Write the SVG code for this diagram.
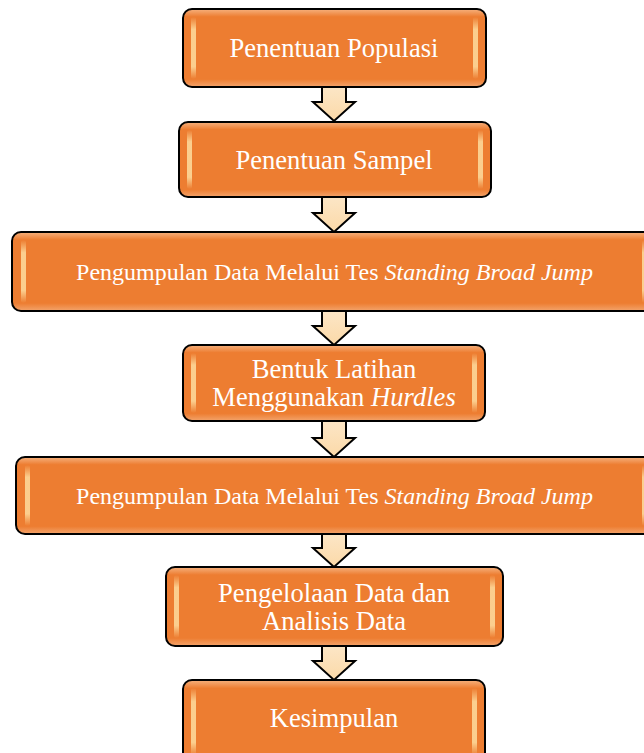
<svg xmlns="http://www.w3.org/2000/svg" width="644" height="753" viewBox="0 0 644 753">
<defs>
<linearGradient id="gv" x1="0" y1="0" x2="0" y2="1">
<stop offset="0" stop-color="#F6B27F"/>
<stop offset="0.1" stop-color="#ED7D31"/>
<stop offset="0.9" stop-color="#ED7D31"/>
<stop offset="1" stop-color="#F3A46C"/>
</linearGradient>
<linearGradient id="bar" x1="0" y1="0" x2="0" y2="1">
<stop offset="0" stop-color="#ED7D31"/>
<stop offset="0.2" stop-color="#FFE3A6"/>
<stop offset="0.8" stop-color="#FFE3A6"/>
<stop offset="1" stop-color="#ED7D31"/>
</linearGradient>
<linearGradient id="arr" x1="0" y1="0" x2="0" y2="1">
<stop offset="0" stop-color="#FCE6C6"/>
<stop offset="1" stop-color="#FBD9A8"/>
</linearGradient>
</defs>
<style>
.box{fill:url(#gv);stroke:#000;stroke-width:2}
.bar{fill:url(#bar);opacity:0.8}
.t{font-family:"Liberation Serif","Times New Roman",serif;fill:#fff;text-anchor:middle}
.big{font-size:26.6px}
.small{font-size:24px}
.arrow{fill:url(#arr);stroke:#000;stroke-width:2;stroke-linejoin:miter}
</style>
<g id="connectors">
<path class="arrow" d="M322,87 L346,87 L346,102 L355,102 L334,121 L313,102 L322,102 Z"/>
<path class="arrow" d="M322,197 L346,197 L346,213 L355,213 L334,232 L313,213 L322,213 Z"/>
<path class="arrow" d="M322,311 L346,311 L346,326 L355,326 L334,345 L313,326 L322,326 Z"/>
<path class="arrow" d="M322,421 L346,421 L346,438 L355,438 L334,457 L313,438 L322,438 Z"/>
<path class="arrow" d="M322,534 L346,534 L346,548 L355,548 L334,567 L313,548 L322,548 Z"/>
<path class="arrow" d="M322,646 L346,646 L346,661 L355,661 L334,680 L313,661 L322,661 Z"/>
</g>
<g id="node1">
<rect class="box" x="183" y="9" width="303" height="78" rx="9"/>
<rect class="bar" x="191" y="17" width="5" height="62" rx="2"/>
<rect class="bar" x="473" y="17" width="5" height="62" rx="2"/>
<text class="t big" x="334" y="57">Penentuan Populasi</text>
</g>
<g id="node2">
<rect class="box" x="179" y="122" width="312" height="75" rx="9"/>
<rect class="bar" x="187" y="130" width="5" height="59" rx="2"/>
<rect class="bar" x="478" y="130" width="5" height="59" rx="2"/>
<text class="t big" x="334" y="169">Penentuan Sampel</text>
</g>
<g id="node3">
<rect class="box" x="12" y="232" width="644" height="79" rx="9"/>
<rect class="bar" x="21" y="240" width="5" height="63" rx="2"/>
<rect class="bar" x="642" y="240" width="5" height="63" rx="2"/>
<text class="t small" x="334.5" y="280">Pengumpulan Data Melalui Tes <tspan font-style="italic">Standing Broad Jump</tspan></text>
</g>
<g id="node4">
<rect class="box" x="183" y="345" width="302" height="76" rx="9"/>
<rect class="bar" x="191" y="353" width="5" height="60" rx="2"/>
<rect class="bar" x="472" y="353" width="5" height="60" rx="2"/>
<text class="t big" x="334" y="378">Bentuk Latihan</text>
<text class="t big" x="334" y="406">Menggunakan <tspan font-style="italic">Hurdles</tspan></text>
</g>
<g id="node5">
<rect class="box" x="16" y="457" width="640" height="77" rx="9"/>
<rect class="bar" x="25" y="465" width="5" height="61" rx="2"/>
<rect class="bar" x="642" y="465" width="5" height="61" rx="2"/>
<text class="t small" x="334.5" y="504">Pengumpulan Data Melalui Tes <tspan font-style="italic">Standing Broad Jump</tspan></text>
</g>
<g id="node6">
<rect class="box" x="166" y="567" width="337" height="79" rx="9"/>
<rect class="bar" x="174" y="575" width="5" height="63" rx="2"/>
<rect class="bar" x="490" y="575" width="5" height="63" rx="2"/>
<text class="t big" x="334" y="602">Pengelolaan Data dan</text>
<text class="t big" x="334" y="630">Analisis Data</text>
</g>
<g id="node7">
<rect class="box" x="183" y="680" width="302" height="84" rx="9"/>
<rect class="bar" x="191" y="688" width="5" height="68" rx="2"/>
<rect class="bar" x="472" y="688" width="5" height="68" rx="2"/>
<text class="t big" x="334" y="727">Kesimpulan</text>
</g>
</svg>
